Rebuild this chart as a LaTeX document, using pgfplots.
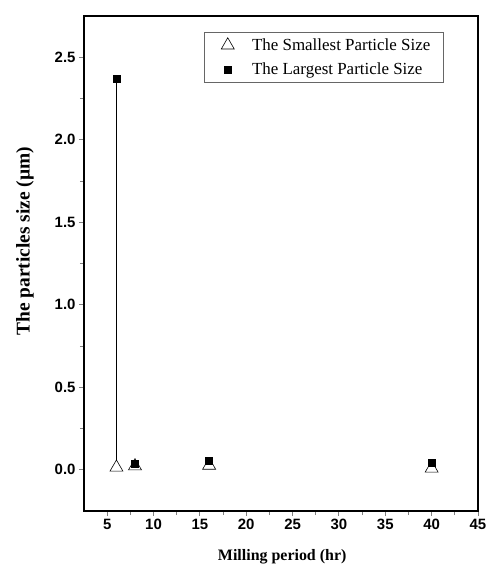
\documentclass[border=0pt]{standalone}
\usepackage{pgfplots}
\pgfplotsset{compat=1.18}
\usetikzlibrary{calc}
\usepackage{fontspec}
\setmainfont{Liberation Serif}
\newfontfamily\tickfont{Liberation Sans}

\pgfplotsset{
    marklegend/.style={legend image code/.code={%
        \path (0bp,0bp) (34bp,0bp);
        \draw[mark repeat=2,mark phase=2,##1] plot coordinates {(0bp,0bp) (12bp,0bp) (34bp,0bp)};}},
}

\begin{document}
\begin{tikzpicture}
\begin{axis}[
    name=main,
    scale only axis,
    width=394bp, height=495bp,
    xmin=2.5, xmax=45,
    ymin=-0.25, ymax=2.75,
    xtick={5,10,...,45},
    ytick={0,0.5,1.0,1.5,2.0,2.5},
    minor x tick num=1,
    minor y tick num=1,
    tick align=outside,
    xtick pos=bottom, ytick pos=left,
    axis line style={line width=1.4pt},
    major tick style={line width=1pt},
    minor tick style={line width=1pt},
    major tick length=5bp, minor tick length=4bp,
    /pgf/number format/assume math mode=true,
    ticklabel style={font=\tickfont\bfseries\fontsize{15}{16}\selectfont},
    yticklabel style={/pgf/number format/fixed, /pgf/number format/fixed zerofill, /pgf/number format/precision=1},
    xlabel={\fontsize{16}{17}\selectfont\bfseries Milling period (hr)},
    ylabel={\fontsize{19.5}{20}\selectfont\bfseries The particles size (µm)},
    xlabel style={at={(axis description cs:0.503,-0.093)}, anchor=center},
    ylabel style={at={(axis description cs:-0.150,0.545)}, anchor=center},
    legend style={at={(0.305,0.968)}, anchor=north west, draw=gray!80!black, line width=0.6pt,
        font=\fontsize{17}{18}\selectfont, inner xsep=11bp, inner ysep=1bp,
        nodes={inner ysep=5.5bp}},
    legend cell align=left,
]
\addplot[black, line width=0.8pt, forget plot] coordinates {(6,2.37) (6,0.056)};

\addplot[only marks, mark=triangle, mark size=7.5bp, mark options={fill=white, line width=0.6pt}, marklegend]
coordinates {(6,0.014) (8,0.022) (16,0.026) (40,0.008)};
\addlegendentry{The Smallest Particle Size}

\addplot[only marks, mark=square*, mark size=3.5bp, black, marklegend]
coordinates {(6,2.37) (8,0.038) (16,0.052) (40,0.042)};
\addlegendentry{The Largest Particle Size}
\end{axis}
\useasboundingbox ($(main.south west)+(-84bp,-60bp)$) rectangle ($(main.north east)+(22bp,16bp)$);
\end{tikzpicture}
\end{document}
